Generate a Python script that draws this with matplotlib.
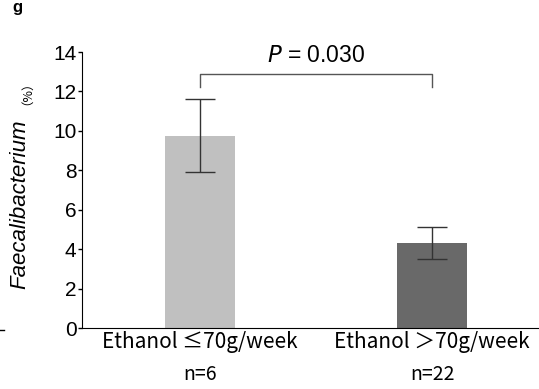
import matplotlib
matplotlib.use("Agg")
import matplotlib.pyplot as plt

groups = ["Ethanol \u226470g/week", "Ethanol \uff1e70g/week"]
counts = ["n=6", "n=22"]
means = [9.75, 4.3]
err_low = [7.9, 3.5]
err_high = [11.6, 5.1]
p_text = "0.030"

cjk = ["Noto Sans CJK JP", "DejaVu Sans"]

fig = plt.figure(figsize=(5.39, 3.89), dpi=100)
ax = fig.add_axes([82 / 539, 61 / 389, 457 / 539, 276 / 389])

x = [0, 1]
yerr = [[m - lo for m, lo in zip(means, err_low)],
        [hi - m for m, hi in zip(means, err_high)]]
ax.bar(x, means, width=0.30, color=["#c0c0c0", "#696969"], zorder=1)
ax.errorbar(x, means, yerr=yerr, fmt="none", ecolor="#333333",
            elinewidth=1, capsize=10.5, capthick=1, zorder=2)

ax.set_xlim(-0.509, 1.461)
ax.set_ylim(0, 14)
ax.set_yticks(range(0, 15, 2))
ax.set_xticks(x)
ax.set_xticklabels(groups, family=cjk, fontsize=15)
ax.tick_params(axis="x", length=0, pad=2)
ax.tick_params(axis="y", length=3, width=1, pad=1, labelsize=15)
for lab in ax.get_yticklabels():
    lab.set_family("Liberation Sans")
ax.spines["top"].set_visible(False)
ax.spines["right"].set_visible(False)

for xi, n in zip(x, counts):
    ax.text(xi, -0.17, n, transform=ax.get_xaxis_transform(), ha="center", va="center",
            family=cjk, fontsize=14)

# significance bracket
ax.plot([0, 0, 1, 1], [12.2, 12.9, 12.9, 12.2], color="#555555", lw=1, clip_on=False)
ax.text(0.5, 13.8, r"$\mathit{P}$ = " + p_text, ha="center", va="center",
        family="Liberation Sans", fontsize=16.5)

# y label
fig.text(20 / 539, 1 - 204 / 389, "Faecalibacterium", rotation=90, ha="center", va="center",
         style="italic", family="Liberation Sans", fontsize=16)
fig.text(21 / 539, 1 - 87 / 389, "\uff08%\uff09", rotation=90, ha="center", va="center",
         family=cjk, fontsize=9)

# panel letter
fig.text(17 / 539, 1.0, "g", ha="center", va="top", fontweight="bold",
         family="Liberation Sans", fontsize=12)
fig.add_artist(plt.Line2D([0, 4 / 539], [1 - 330 / 389, 1 - 330 / 389], color="black", lw=1))

fig.savefig("out.png", dpi=100)
